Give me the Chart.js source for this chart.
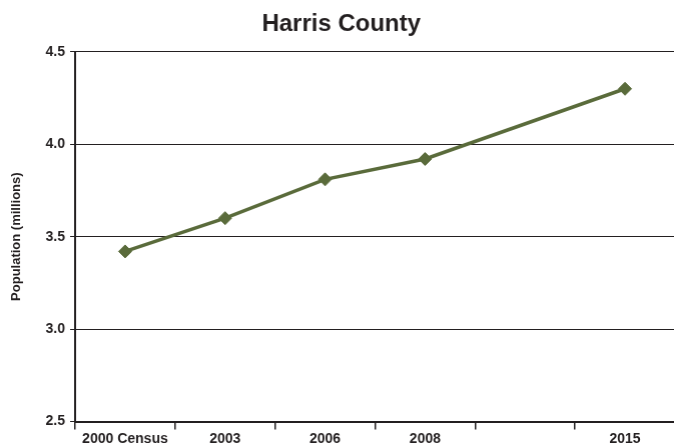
<!DOCTYPE html>
<html>
<head>
<meta charset="utf-8">
<script src="https://cdn.jsdelivr.net/npm/chart.js@4"></script>
<style>
  html, body { margin: 0; padding: 0; background: #fff; overflow: hidden; }
  /* the plot runs right up to the page edge, so the canvas is a bit wider
     than the page and the line's overflow padding falls outside it */
  #page { width: 674px; height: 444px; overflow: hidden; }
  #wrap { width: 681.5px; height: 444px; }
</style>
</head>
<body>
<div id="page"><div id="wrap"><canvas id="population-chart"></canvas></div></div>
<script>
// Harris County population, in millions (blank slot between 2008 and 2015)
const years = ["2000 Census", "2003", "2006", "2008", "", "2015"];
const population = [3.42, 3.60, 3.81, 3.92, null, 4.30];
const y_ticks = [2.5, 3.0, 3.5, 4.0, 4.5];

const ink = "#231f20";
const olive = "#5a6b3b";
const font_family = "'Liberation Sans', Arial, sans-serif";

const chart_el = document.getElementById("population-chart");

new Chart(chart_el, {
    type: "line",
    data: {
        labels: years,
        datasets: [{
            label: "Population (millions)",
            data: population,
            borderColor: olive,
            backgroundColor: olive,
            borderWidth: 3.5,
            pointStyle: "rectRot",
            pointRadius: 6.5,
            pointHoverRadius: 6.5,
            pointBorderWidth: 1,
            pointBorderColor: olive,
            pointBackgroundColor: olive,
            spanGaps: true,
            tension: 0
        }]
    },
    options: {
        responsive: true,
        maintainAspectRatio: false,
        animation: false,
        layout: { padding: 0 },
        plugins: {
            legend: { display: false },
            tooltip: { enabled: false },
            title: {
                display: true,
                text: "Harris County",
                color: ink,
                font: { family: font_family, size: 24, weight: "bold" },
                padding: { top: 10, bottom: 13 }
            }
        },
        scales: {
            x: {
                offset: true,
                grid: {
                    offset: true,
                    drawOnChartArea: false,
                    drawTicks: true,
                    tickLength: 8,
                    color: ink,
                    lineWidth: 1.5
                },
                border: { display: true, color: ink, width: 2 },
                ticks: {
                    color: ink,
                    padding: 1,
                    maxRotation: 0,
                    autoSkip: false,
                    font: { family: font_family, size: 14, weight: "bold" }
                },
                afterFit: (scale) => { scale.height = 22.5; }
            },
            y: {
                min: y_ticks[0],
                max: y_ticks[y_ticks.length - 1],
                afterBuildTicks: (scale) => {
                    scale.ticks = y_ticks.map((v) => ({ value: v }));
                },
                grid: {
                    color: ink,
                    lineWidth: 1,
                    tickLength: 5
                },
                border: { display: true, color: ink, width: 2 },
                ticks: {
                    color: ink,
                    padding: 5,
                    font: { family: font_family, size: 14, weight: "bold" },
                    callback: (v) => Number(v).toFixed(1)
                },
                title: {
                    display: true,
                    text: "Population (millions)",
                    color: ink,
                    font: { family: font_family, size: 13, weight: "bold" },
                    padding: { top: 9, bottom: 0 }
                },
                afterFit: (scale) => { scale.width = 75; }
            }
        }
    }
});
</script>
</body>
</html>
